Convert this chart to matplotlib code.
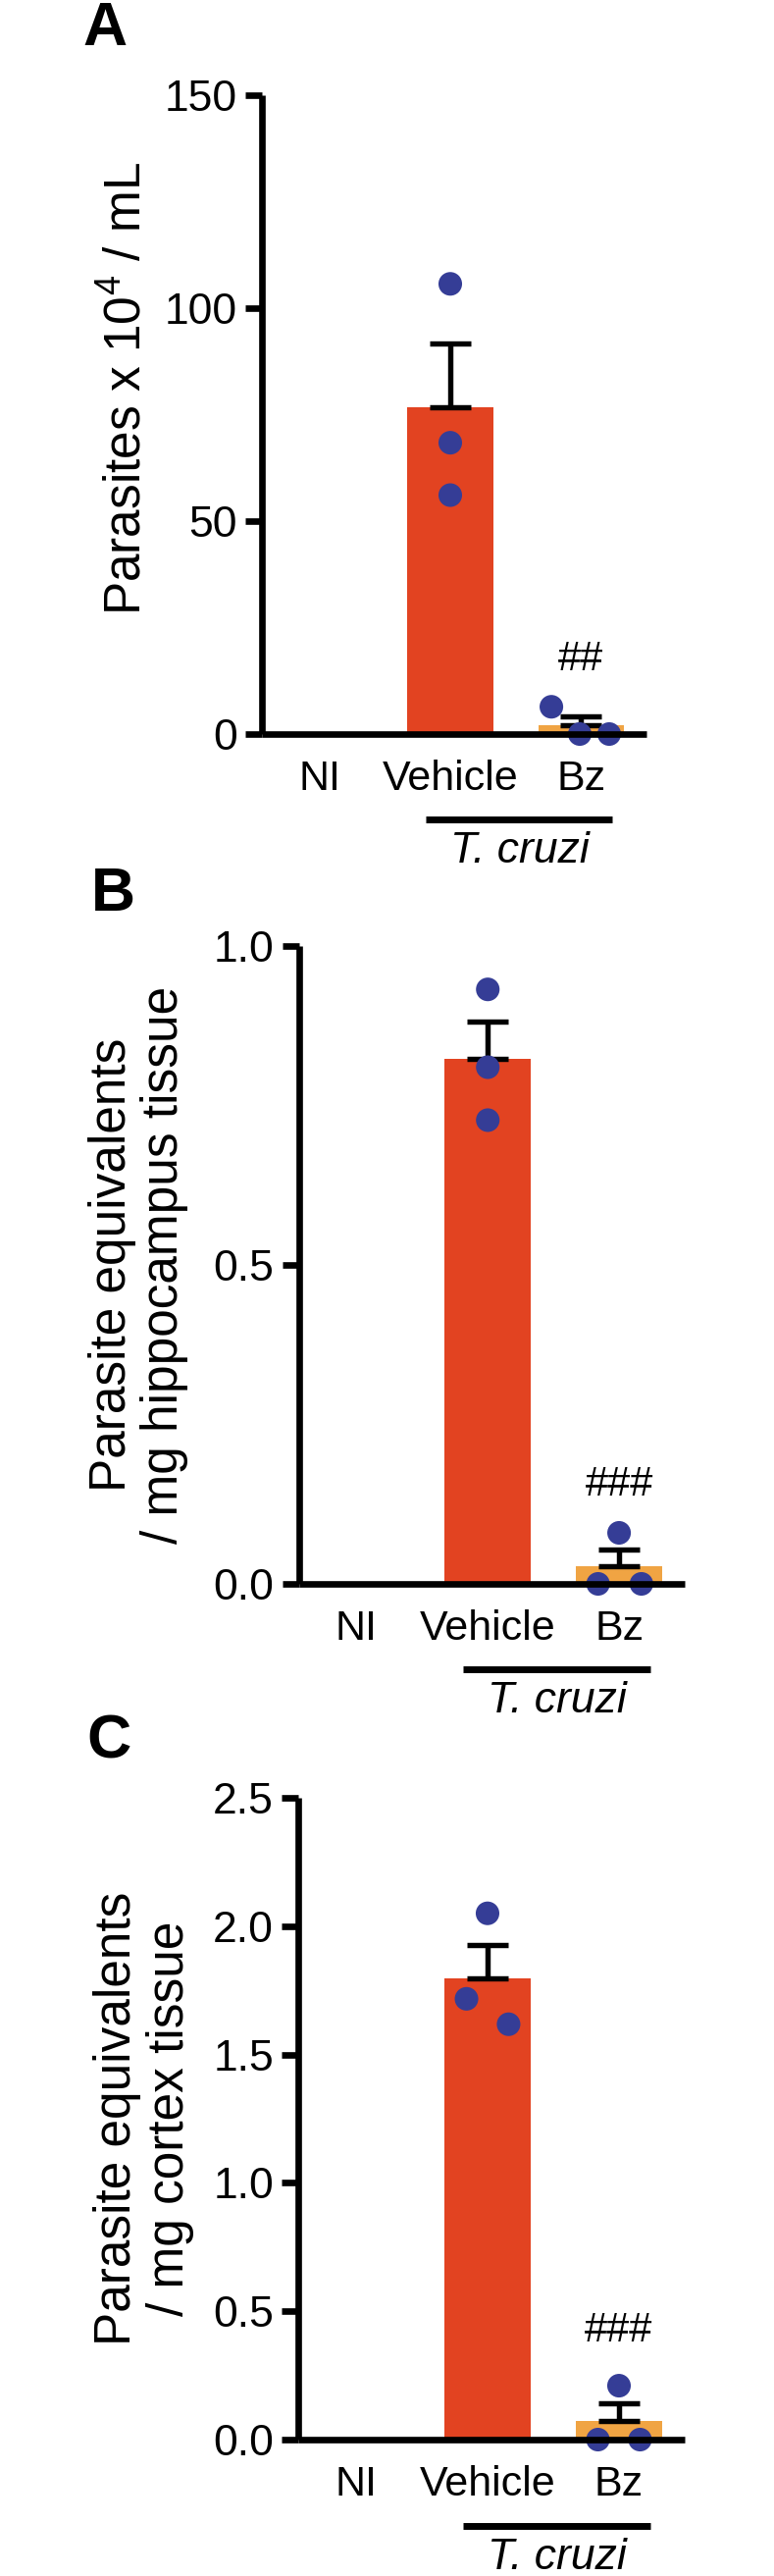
import matplotlib
matplotlib.use("Agg")
import matplotlib.pyplot as plt
from matplotlib.transforms import blended_transform_factory

plt.rcParams['font.family'] = ['Liberation Sans', 'DejaVu Sans']
plt.rcParams['mathtext.default'] = 'regular'

# ---------------- data ----------------
groups = ["NI", "Vehicle", "Bz"]
infection_label = "T. cruzi"

a_means = [0.0, 76.7, 2.1]
a_sem = [0.0, 14.9, 2.1]
a_vehicle_pts = [105.7, 68.4, 56.1]
a_bz_pts = [6.4, 0.0, 0.0]
a_sig = "##"
a_ylabel = "Parasites x 10$^{4}$ / mL"
a_ticks = [0, 50, 100, 150]
a_ticklabels = ["0", "50", "100", "150"]

b_means = [0.0, 0.823, 0.027]
b_sem = [0.0, 0.059, 0.027]
b_vehicle_pts = [0.932, 0.810, 0.727]
b_bz_pts = [0.080, 0.0, 0.0]
b_sig = "###"
b_ylabel = "Parasite equivalents\n/ mg hippocampus tissue"
b_ticks = [0.0, 0.5, 1.0]
b_ticklabels = ["0.0", "0.5", "1.0"]

c_means = [0.0, 1.795, 0.071]
c_sem = [0.0, 0.131, 0.071]
c_vehicle_pts = [2.05, 1.717, 1.618]
c_bz_pts = [0.21, 0.0, 0.0]
c_sig = "###"
c_ylabel = "Parasite equivalents\n/ mg cortex tissue"
c_ticks = [0.0, 0.5, 1.0, 1.5, 2.0, 2.5]
c_ticklabels = ["0.0", "0.5", "1.0", "1.5", "2.0", "2.5"]

# ---------------- style ----------------
bar_colors = ["#E24321", "#E24321", "#F0A443"]
dot_color = "#353D96"
W, H = 789, 2625
fig = plt.figure(figsize=(W / 100, H / 100), dpi=100)

LW = 4.8


def px_axes(left, right, top, bottom):
    return [left / W, 1 - bottom / H, (right - left) / W, (bottom - top) / H]


def panel(rect, means, sem, veh_pts, veh_dx, bz_pts, bz_dx, ylim, ticks,
          ticklabels, ylabel, ylabel_xy, sig, sig_y, letter, letter_xy):
    ax = fig.add_axes(rect)
    x = list(range(len(groups)))
    ax.bar(x, means, width=0.655, color=bar_colors, edgecolor="none", zorder=1)
    for xi, m, s in zip(x, means, sem):
        if s > 0:
            ax.errorbar([xi], [m], yerr=[[0], [s]], fmt="none", ecolor="black",
                        elinewidth=3.9, capsize=15, capthick=3.9,
                        zorder=2)
    ax.scatter([1 + d for d in veh_dx], veh_pts, s=300, color=dot_color,
               edgecolors="none", zorder=3, clip_on=False)
    ax.scatter([2 + d for d in bz_dx], bz_pts, s=300, color=dot_color,
               edgecolors="none", zorder=3, clip_on=False)
    ax.set_xlim(-0.44, 2.5)
    ax.set_ylim(*ylim)
    ax.set_yticks(ticks)
    ax.set_yticklabels(ticklabels)
    ax.set_xticks(x)
    ax.set_xticklabels(groups)
    for sp in ["top", "right"]:
        ax.spines[sp].set_visible(False)
    for sp in ["left", "bottom"]:
        ax.spines[sp].set_linewidth(LW)
        ax.spines[sp].set_zorder(5)
        ax.spines[sp].set_capstyle("butt")
    ax.tick_params(axis="y", length=12, width=LW, labelsize=32, pad=6)
    ax.tick_params(axis="x", length=0, labelsize=31, pad=19)
    ax.text(ylabel_xy[0], ylabel_xy[1], ylabel, transform=ax.transAxes,
            rotation=90, ha="center", va="center", fontsize=37,
            multialignment="center", linespacing=1.12)
    ax.text(2, sig_y, sig, ha="center", va="center", fontsize=30)
    trans = blended_transform_factory(ax.transData, ax.transAxes)
    ax.plot([0.81, 2.24], [-0.134, -0.134], color="black", lw=5,
            transform=trans, clip_on=False, solid_capstyle="butt")
    ax.text(1.53, -0.184, infection_label, transform=trans, ha="center",
            va="center", fontsize=32, style="italic")
    fig.text(letter_xy[0] / W, 1 - letter_xy[1] / H, letter, fontsize=45,
             fontweight="bold", ha="center", va="center")
    return ax


panel(px_axes(267, 659, 97, 748), a_means, a_sem, a_vehicle_pts, [0, 0, 0],
      a_bz_pts, [-0.227, -0.01, 0.215], (0, 150), a_ticks, a_ticklabels,
      a_ylabel, (-0.35, 0.54), a_sig, 17.5, "A", (107, 30))

panel(px_axes(304.5, 698, 964, 1614), b_means, b_sem, b_vehicle_pts, [0, 0, 0],
      b_bz_pts, [0.0, -0.16, 0.17], (0, 1.0), b_ticks, b_ticklabels,
      b_ylabel, (-0.415, 0.5), b_sig, 0.155, "B", (115, 912))

panel(px_axes(304, 698, 1832, 2486), c_means, c_sem, c_vehicle_pts,
      [0.0, -0.16, 0.16], c_bz_pts, [0.0, -0.16, 0.16], (0, 2.5), c_ticks,
      c_ticklabels, c_ylabel, (-0.40, 0.5), c_sig, 0.424, "C", (111, 1775))

fig.savefig("out.png", dpi=100)
